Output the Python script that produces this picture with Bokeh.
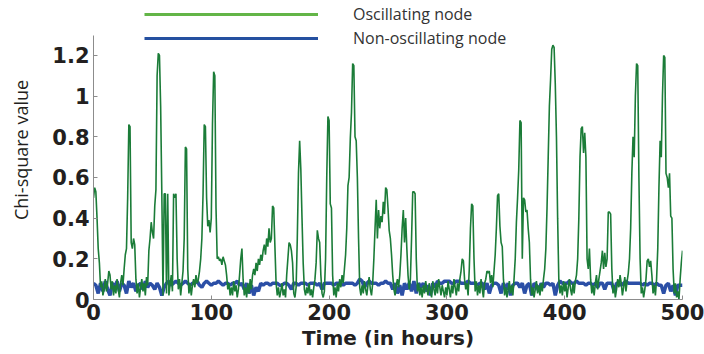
from bokeh.plotting import figure
from bokeh.models import Range1d, FixedTicker, CustomJSTickFormatter, Legend, LegendItem, ColumnDataSource
from bokeh.embed import file_html
from bokeh.resources import INLINE

# ---------------- data ----------------
osc_hours = list(range(0, 501))
osc_values = [
    0.50, 0.55, 0.53, 0.40, 0.25, 0.18, 0.06, 0.09, 0.02, 0.05,
    0.10, 0.04, 0.08, 0.14, 0.12, 0.05, 0.09, 0.02, 0.07, 0.03,
    0.10, 0.05, 0.01, 0.08, 0.12, 0.07, 0.15, 0.22, 0.25, 0.50,
    0.86, 0.85, 0.28, 0.25, 0.30, 0.27, 0.10, 0.03, 0.08, 0.01,
    0.06, 0.10, 0.04, 0.08, 0.02, 0.11, 0.07, 0.24, 0.30, 0.38,
    0.33, 0.30, 0.46, 0.54, 1.10, 1.21, 1.20, 0.95, 0.52, 0.02,
    0.52, 0.52, 0.03, 0.52, 0.02, 0.07, 0.12, 0.04, 0.52, 0.50,
    0.52, 0.20, 0.05, 0.10, 0.02, 0.08, 0.14, 0.30, 0.75, 0.74,
    0.15, 0.03, 0.08, 0.02, 0.07, 0.10, 0.06, 0.12, 0.08, 0.10,
    0.14, 0.20, 0.30, 0.52, 0.86, 0.85, 0.50, 0.36, 0.39, 0.33,
    0.40, 0.86, 1.12, 1.10, 0.45, 0.20, 0.21, 0.19, 0.20, 0.17,
    0.21, 0.19, 0.17, 0.12, 0.05, 0.08, 0.02, 0.06, 0.02, 0.09,
    0.04, 0.07, 0.01, 0.05, 0.12, 0.20, 0.25, 0.10, 0.02, 0.06,
    0.01, 0.08, 0.03, 0.10, 0.05, 0.12, 0.15, 0.12, 0.18, 0.14,
    0.20, 0.17, 0.22, 0.19, 0.24, 0.27, 0.22, 0.30, 0.26, 0.35,
    0.28, 0.30, 0.46, 0.45, 0.26, 0.08, 0.02, 0.06, 0.01, 0.04,
    0.08, 0.02, 0.05, 0.01, 0.12, 0.20, 0.28, 0.27, 0.24, 0.18,
    0.03, 0.01, 0.06, 0.30, 0.62, 0.78, 0.64, 0.40, 0.18, 0.05,
    0.02, 0.06, 0.03, 0.08, 0.02, 0.05, 0.01, 0.06, 0.10, 0.18,
    0.34, 0.30, 0.28, 0.12, 0.03, 0.01, 0.04, 0.20, 0.60, 0.90,
    0.88, 0.47, 0.45, 0.12, 0.02, 0.06, 0.01, 0.08, 0.04, 0.10,
    0.06, 0.12, 0.08, 0.15, 0.22, 0.35, 0.56, 0.60, 0.79, 0.92,
    1.16, 1.15, 0.80, 0.78, 0.60, 0.30, 0.06, 0.02, 0.07, 0.03,
    0.09, 0.05, 0.02, 0.07, 0.11, 0.05, 0.02, 0.08, 0.20, 0.35,
    0.49, 0.30, 0.44, 0.35, 0.41, 0.38, 0.48, 0.42, 0.55, 0.54,
    0.45, 0.34, 0.30, 0.22, 0.12, 0.05, 0.02, 0.07, 0.10, 0.06,
    0.12, 0.22, 0.35, 0.44, 0.28, 0.40, 0.25, 0.12, 0.05, 0.10,
    0.30, 0.53, 0.53, 0.52, 0.20, 0.04, 0.08, 0.02, 0.06, 0.01,
    0.07, 0.03, 0.09, 0.05, 0.02, 0.08, 0.04, 0.01, 0.09, 0.05,
    0.02, 0.08, 0.03, 0.10, 0.06, 0.02, 0.07, 0.04, 0.01, 0.06,
    0.02, 0.09, 0.05, 0.01, 0.07, 0.03, 0.10, 0.06, 0.02, 0.08,
    0.04, 0.10, 0.14, 0.20, 0.19, 0.10, 0.05, 0.08, 0.02, 0.15,
    0.35, 0.47, 0.46, 0.20, 0.04, 0.09, 0.02, 0.07, 0.03, 0.10,
    0.05, 0.01, 0.08, 0.10, 0.14, 0.13, 0.14, 0.08, 0.12, 0.06,
    0.14, 0.22, 0.35, 0.51, 0.52, 0.36, 0.28, 0.26, 0.10, 0.02,
    0.06, 0.01, 0.05, 0.09, 0.03, 0.07, 0.02, 0.10, 0.20, 0.38,
    0.50, 0.64, 0.88, 0.87, 0.20, 0.50, 0.49, 0.43, 0.44, 0.35,
    0.28, 0.10, 0.02, 0.06, 0.01, 0.05, 0.09, 0.03, 0.07, 0.02,
    0.08, 0.04, 0.10, 0.15, 0.25, 0.45, 0.70, 0.95, 1.08, 1.23,
    1.25, 1.24, 1.06, 0.80, 0.40, 0.10, 0.03, 0.07, 0.02, 0.09,
    0.04, 0.08, 0.01, 0.06, 0.10, 0.05, 0.02, 0.08, 0.03, 0.09,
    0.12, 0.20, 0.40, 0.70, 0.84, 0.85, 0.72, 0.82, 0.70, 0.20,
    0.15, 0.25, 0.10, 0.03, 0.07, 0.02, 0.08, 0.12, 0.05, 0.10,
    0.14, 0.18, 0.24, 0.15, 0.23, 0.16, 0.20, 0.43, 0.43, 0.42,
    0.15, 0.03, 0.07, 0.01, 0.05, 0.10, 0.06, 0.12, 0.08, 0.02,
    0.06, 0.11, 0.04, 0.09, 0.13, 0.20, 0.35, 0.62, 0.80, 0.70,
    1.00, 1.16, 1.15, 0.60, 0.20, 0.03, 0.06, 0.01, 0.05, 0.10,
    0.19, 0.20, 0.16, 0.19, 0.12, 0.03, 0.07, 0.02, 0.10, 0.25,
    0.55, 0.78, 0.70, 1.00, 1.20, 1.19, 0.62, 0.60, 0.55, 0.62,
    0.41, 0.40, 0.15, 0.03, 0.08, 0.01, 0.04, 0.00, 0.10, 0.18,
    0.24,
]

non_osc_hours = list(range(0, 501, 2))
non_osc_values = [
    0.08, 0.07, 0.03, 0.08, 0.04, 0.09, 0.05, 0.02, 0.08, 0.06,
    0.09, 0.04, 0.08, 0.07, 0.03, 0.09, 0.06, 0.08, 0.04, 0.07,
    0.08, 0.05, 0.09, 0.06, 0.08, 0.07, 0.05, 0.08, 0.06, 0.02,
    0.06, 0.08, 0.09, 0.07, 0.08, 0.09, 0.08, 0.07, 0.08, 0.09,
    0.08, 0.07, 0.08, 0.08, 0.09, 0.07, 0.06, 0.08, 0.09, 0.08,
    0.07, 0.08, 0.08, 0.09, 0.08, 0.07, 0.08, 0.08, 0.07, 0.08,
    0.08, 0.09, 0.07, 0.08, 0.05, 0.08, 0.03, 0.07, 0.02, 0.06,
    0.04, 0.08, 0.07, 0.08, 0.08, 0.07, 0.08, 0.08, 0.08, 0.07,
    0.07, 0.08, 0.08, 0.07, 0.05, 0.08, 0.08, 0.07, 0.08, 0.08,
    0.08, 0.07, 0.08, 0.08, 0.08, 0.07, 0.08, 0.05, 0.08, 0.08,
    0.08, 0.08, 0.07, 0.08, 0.08, 0.08, 0.07, 0.08, 0.08, 0.08,
    0.08, 0.07, 0.08, 0.10, 0.09, 0.06, 0.08, 0.09, 0.08, 0.08,
    0.08, 0.07, 0.08, 0.08, 0.09, 0.08, 0.08, 0.05, 0.08, 0.03,
    0.07, 0.02, 0.08, 0.05, 0.08, 0.04, 0.09, 0.03, 0.08, 0.06,
    0.08, 0.04, 0.07, 0.02, 0.08, 0.06, 0.09, 0.08, 0.08, 0.09,
    0.09, 0.09, 0.08, 0.08, 0.09, 0.09, 0.08, 0.08, 0.08, 0.09,
    0.08, 0.08, 0.08, 0.07, 0.08, 0.08, 0.05, 0.08, 0.03, 0.07,
    0.08, 0.08, 0.07, 0.03, 0.08, 0.05, 0.08, 0.02, 0.07, 0.08,
    0.08, 0.06, 0.08, 0.03, 0.07, 0.08, 0.02, 0.08, 0.07, 0.04,
    0.08, 0.06, 0.08, 0.08, 0.07, 0.08, 0.02, 0.07, 0.09, 0.08,
    0.08, 0.08, 0.09, 0.08, 0.08, 0.09, 0.08, 0.08, 0.08, 0.07,
    0.08, 0.08, 0.07, 0.08, 0.06, 0.08, 0.08, 0.05, 0.08, 0.08,
    0.08, 0.04, 0.08, 0.08, 0.07, 0.08, 0.09, 0.08, 0.08, 0.08,
    0.08, 0.08, 0.08, 0.07, 0.08, 0.07, 0.08, 0.08, 0.07, 0.08,
    0.07, 0.07, 0.03, 0.07, 0.08, 0.04, 0.07, 0.02, 0.07, 0.07,
    0.07,
]

x_ticks = [0, 100, 200, 300, 400, 500]
y_ticks = [0, 0.2, 0.4, 0.6, 0.8, 1.0, 1.2]
y_axis_span = (0, 1.3)
series_labels = ["Oscillating node", "Non-oscillating node"]

# ---------------- figure ----------------
# the frame reaches the top of the canvas so that the legend (drawn inside the
# frame) is not clipped; the y axis line itself is bounded to 0..1.3
p = figure(width=704, height=354, output_backend="svg", toolbar_location=None,
           x_range=Range1d(0, 500), y_range=Range1d(0, 1.47),
           min_border_left=93, min_border_right=22, min_border_top=0, min_border_bottom=55)
p.outline_line_color = None
p.grid.visible = False
p.background_fill_color = "white"
p.border_fill_color = "white"

src_non = ColumnDataSource(dict(x=non_osc_hours, y=non_osc_values))
src_osc = ColumnDataSource(dict(x=osc_hours, y=osc_values))

p.line("x", "y", source=src_non, line_color="#2B4FA6", line_width=3.5)
p.line("x", "y", source=src_osc, line_color="#1B7C38", line_width=1.6)

# legend proxies (legend colours differ from plotted colours); NaN = nothing drawn
proxy = ColumnDataSource(dict(x=[float("nan")], y=[float("nan")]))
r_leg_osc = p.line("x", "y", source=proxy, line_color="#63B547", line_width=3)
r_leg_non = p.line("x", "y", source=proxy, line_color="#2550A0", line_width=3)
legend = Legend(items=[LegendItem(label=series_labels[0], renderers=[r_leg_osc]),
                       LegendItem(label=series_labels[1], renderers=[r_leg_non])],
                location=(51, 250), orientation="vertical",
                glyph_width=174, glyph_height=18, label_height=18, label_width=10,
                spacing=2, label_standoff=35, padding=0, margin=0,
                border_line_color=None, background_fill_alpha=0,
                label_text_font="Open Sans", label_text_font_size="16px",
                label_text_color="#333333")
p.add_layout(legend)

# axes
for ax in (p.xaxis[0], p.yaxis[0]):
    ax.axis_line_color = "#8c8c8c"
    ax.axis_line_width = 1
    ax.major_tick_line_color = "#8c8c8c"
    ax.major_tick_in = 4
    ax.major_tick_out = 0
    ax.minor_tick_line_color = None
    ax.major_label_text_font = "DejaVu Sans"
    ax.major_label_text_font_style = "bold"
    ax.major_label_text_font_size = "21px"
    ax.major_label_text_color = "#231f20"

p.yaxis.bounds = y_axis_span
p.xaxis.ticker = FixedTicker(ticks=x_ticks)
p.yaxis.ticker = FixedTicker(ticks=y_ticks)
p.yaxis.formatter = CustomJSTickFormatter(code="return String(Math.round(tick*10)/10);")
p.xaxis.major_label_standoff = 4
p.yaxis.major_label_standoff = 4

p.xaxis.axis_label = "Time (in hours)"
p.xaxis.axis_label_text_font = "DejaVu Sans"
p.xaxis.axis_label_text_font_style = "bold"
p.xaxis.axis_label_text_font_size = "20px"
p.xaxis.axis_label_text_color = "#231f20"
p.xaxis.axis_label_standoff = 3

p.yaxis.axis_label = "Chi-square value"
p.yaxis.axis_label_text_font = "Open Sans"
p.yaxis.axis_label_text_font_style = "normal"
p.yaxis.axis_label_text_font_size = "18px"
p.yaxis.axis_label_text_color = "#231f20"
p.yaxis.axis_label_standoff = 16

open("out.html", "w").write(file_html(p, INLINE))
